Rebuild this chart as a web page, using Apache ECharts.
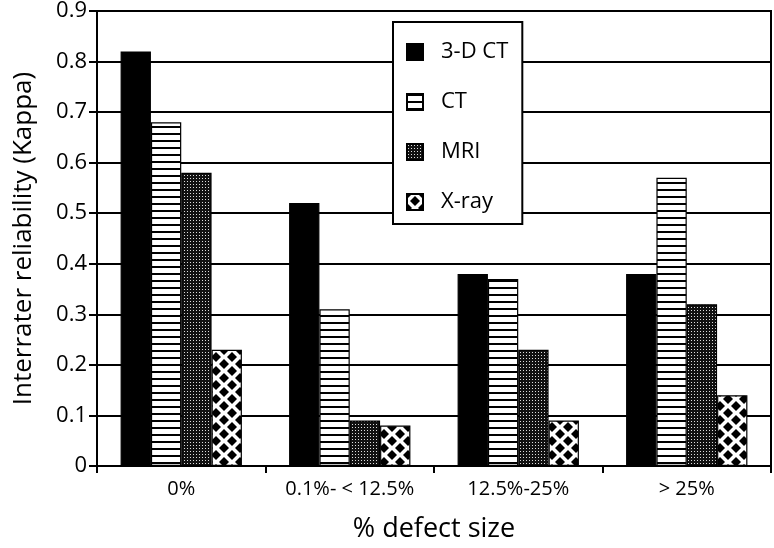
<!DOCTYPE html>
<html><head><meta charset="utf-8">
<script src="https://cdn.jsdelivr.net/npm/echarts@6/dist/echarts.min.js"></script>
<style>html,body{margin:0;padding:0;background:#fff}#c{width:774px;height:548px}</style>
</head><body><div id="c"></div>
<script>
var categories = ['0%', '0.1%- < 12.5%', '12.5%-25%', '> 25%'];
var seriesNames = ['3-D CT', 'CT', 'MRI', 'X-ray'];
var ct3d = [0.82, 0.52, 0.38, 0.38];
var ct = [0.68, 0.31, 0.37, 0.57];
var mri = [0.58, 0.09, 0.23, 0.32];
var xray = [0.23, 0.08, 0.09, 0.14];
var yTicks = [0, 0.1, 0.2, 0.3, 0.4, 0.5, 0.6, 0.7, 0.8, 0.9];

function makeCanvas(w, h, draw) {
  var c = document.createElement('canvas');
  c.width = w; c.height = h;
  var g = c.getContext('2d');
  draw(g, w, h);
  return c;
}
var stripes = makeCanvas(7, 7, function (g, w, h) {
  g.fillStyle = '#fff'; g.fillRect(0, 0, w, h);
  g.fillStyle = '#000'; g.fillRect(0, 0, w, 2);
});
var dots = makeCanvas(3, 3, function (g, w, h) {
  g.fillStyle = '#111'; g.fillRect(0, 0, w, h);
  g.fillStyle = '#ddd'; g.fillRect(1, 1, 1, 1);
});
var diamonds = makeCanvas(16, 14, function (g, w, h) {
  g.fillStyle = '#fff'; g.fillRect(0, 0, w, h);
  g.fillStyle = '#000';
  function d(cx, cy) {
    var r = 5;
    g.beginPath();
    g.moveTo(cx, cy - r); g.lineTo(cx + r, cy); g.lineTo(cx, cy + r); g.lineTo(cx - r, cy);
    g.closePath(); g.fill();
  }
  d(8, 7); d(0, 0); d(16, 0); d(0, 14); d(16, 14);
});

var fills = ['#000',
  { image: stripes, repeat: 'repeat' },
  { image: dots, repeat: 'repeat' },
  { image: diamonds, repeat: 'repeat' }];
var datas = [ct3d, ct, mri, xray];

var series = seriesNames.map(function (n, i) {
  return {
    name: n, type: 'bar', data: datas[i],
    barGap: '0%', barCategoryGap: '28%',
    itemStyle: { color: fills[i], borderColor: '#000', borderWidth: 1.2 },
    emphasis: { disabled: true }
  };
});

var chart = echarts.init(document.getElementById('c'));
chart.setOption({
  animation: false,
  backgroundColor: '#fff',
  textStyle: { fontFamily: 'Open Sans', color: '#000' },
  grid: { left: 97, right: 3, top: 9, bottom: 81, show: true, borderColor: '#000', borderWidth: 2, backgroundColor: 'transparent' },
  legend: {
    orient: 'vertical', left: 393, top: 22,
    data: seriesNames,
    itemWidth: 16, itemHeight: 16, itemGap: 26,
    padding: [18, 14, 10, 13],
    backgroundColor: '#fff', borderColor: '#000', borderWidth: 2,
    textStyle: { fontSize: 22, lineHeight: 24, color: '#000', fontFamily: 'Open Sans', padding: [0, 0, 0, 13] },
    icon: 'rect', selectedMode: false
  },
  xAxis: {
    type: 'category', data: categories,
    axisLine: { lineStyle: { color: '#000', width: 2 } },
    axisTick: { show: true, length: 7, interval: 0, lineStyle: { color: '#000', width: 2 } },
    axisLabel: { fontSize: 20, color: '#000', margin: 13, interval: 0 },
    name: '% defect size', nameLocation: 'middle', nameGap: 50,
    nameTextStyle: { fontSize: 27, color: '#000' }
  },
  yAxis: {
    type: 'value', min: yTicks[0], max: yTicks[yTicks.length - 1], interval: 0.1,
    axisLine: { show: true, lineStyle: { color: '#000', width: 2 } },
    axisTick: { show: true, length: 8, lineStyle: { color: '#000', width: 2 } },
    splitLine: { show: true, lineStyle: { color: '#000', width: 2 } },
    axisLabel: { fontSize: 22, color: '#000', margin: 10 },
    name: 'Interrater reliability (Kappa)', nameLocation: 'middle', nameGap: 60,
    nameTextStyle: { fontSize: 26, color: '#000' }
  },
  series: series
});
</script></body></html>
